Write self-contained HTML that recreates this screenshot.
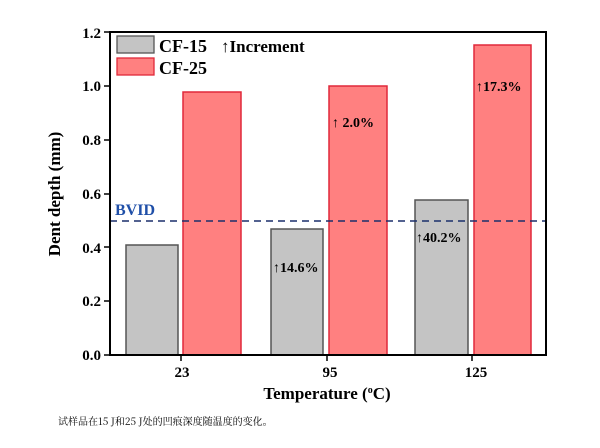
<!DOCTYPE html>
<html><head><style>
body{margin:0;background:#fff;width:600px;height:443px;overflow:hidden}
svg{font-family:"Liberation Serif","Noto Serif CJK SC",serif;font-weight:bold}
</style></head><body>
<svg width="600" height="443" viewBox="0 0 600 443">
<g stroke="#555" stroke-width="1.5">
<rect x="126" y="245" width="52" height="110" fill="#c4c4c4"/>
<rect x="271" y="229" width="52" height="126" fill="#c4c4c4"/>
<rect x="415" y="200" width="53" height="155" fill="#c4c4c4"/>
</g>
<g stroke="#e0283a" stroke-width="1.5" fill="#ff8080">
<rect x="183" y="92" width="58" height="263"/>
<rect x="329" y="86" width="58" height="269"/>
<rect x="474" y="45" width="57" height="310"/>
</g>
<line x1="110" y1="221" x2="546" y2="221" stroke="#1a2f6b" stroke-width="1.5" stroke-dasharray="7,5"/>
<text x="115" y="215" font-size="16" fill="#1f4fa8">BVID</text>
<rect x="110" y="32" width="436" height="323" fill="none" stroke="#000" stroke-width="2"/>
<g stroke="#000" stroke-width="1.5">
<line x1="104" y1="32" x2="110" y2="32"/><line x1="104" y1="86" x2="110" y2="86"/><line x1="104" y1="140" x2="110" y2="140"/><line x1="104" y1="194" x2="110" y2="194"/><line x1="104" y1="247" x2="110" y2="247"/><line x1="104" y1="301" x2="110" y2="301"/><line x1="104" y1="355" x2="110" y2="355"/>
<line x1="181" y1="355" x2="181" y2="361"/><line x1="327" y1="355" x2="327" y2="361"/><line x1="472" y1="355" x2="472" y2="361"/>
</g>
<g font-size="15" text-anchor="end">
<text x="101" y="38">1.2</text><text x="101" y="91">1.0</text><text x="101" y="145">0.8</text><text x="101" y="199">0.6</text><text x="101" y="253">0.4</text><text x="101" y="306">0.2</text><text x="101" y="360">0.0</text>
</g>
<g font-size="15" text-anchor="middle">
<text x="182" y="377">23</text><text x="330" y="377">95</text><text x="476" y="377">125</text>
</g>
<text x="327" y="399" font-size="17" text-anchor="middle">Temperature (<tspan font-size="10" dy="-6">o</tspan><tspan dy="6">C)</tspan></text>
<text transform="translate(60,194) rotate(-90)" font-size="17" text-anchor="middle">Dent depth (mm)</text>
<rect x="117" y="36" width="37" height="17" fill="#c4c4c4" stroke="#555" stroke-width="1.3"/>
<rect x="117" y="58" width="37" height="17" fill="#ff8080" stroke="#e0283a" stroke-width="1.3"/>
<text x="159" y="52" font-size="18">CF-15</text>
<text x="159" y="74" font-size="18">CF-25</text>
<text x="221" y="52" font-size="17">↑Increment</text>
<g font-size="14">
<text x="273" y="272">↑14.6%</text>
<text x="416" y="242">↑40.2%</text>
<text x="332" y="127">↑ 2.0%</text>
<text x="476" y="91">↑17.3%</text>
</g>
<text x="58" y="425" font-size="10" font-weight="normal" font-family="'Noto Serif CJK SC','Liberation Serif',serif">试样品在15 J和25 J处的凹痕深度随温度的变化。</text>
</svg>
</body></html>
